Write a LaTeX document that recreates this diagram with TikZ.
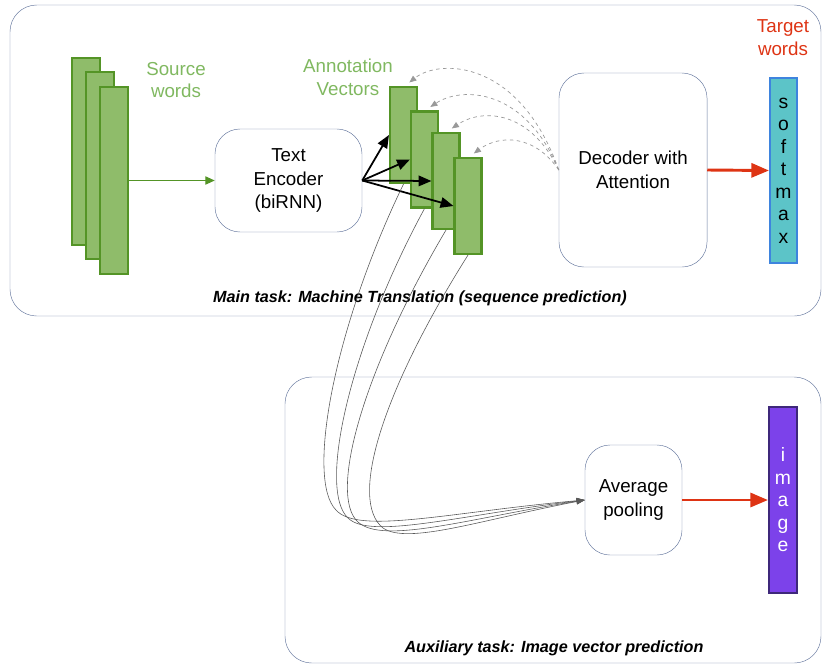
\documentclass[tikz,border=0pt]{standalone}
\usepackage{fontspec}
\setmainfont{Liberation Sans}
\usepackage{tikz}
\usetikzlibrary{arrows.meta}
\definecolor{vecgreen}{RGB}{143,188,106}
\definecolor{vecedge}{RGB}{84,148,38}
\definecolor{labgreen}{RGB}{128,184,96}
\definecolor{outred}{RGB}{222,52,20}
\definecolor{softteal}{RGB}{92,196,200}
\definecolor{softedge}{RGB}{62,132,222}
\definecolor{imgpurple}{RGB}{124,66,234}
\definecolor{imgedge}{RGB}{62,40,122}
\definecolor{boxedge}{RGB}{104,122,160}

\begin{document}
\begin{tikzpicture}[x=0.03cm,y=-0.03cm,
    vec/.style={draw=vecedge,fill=vecgreen,line width=1.8pt,inner sep=0pt},
    block/.style={draw=boxedge,rounded corners=0.75cm,fill=white,align=center,
      font=\fontsize{16}{20.4}\selectfont,inner sep=0pt},
    outvec/.style={line width=1.8pt,inner sep=0pt,align=center,
      font=\fontsize{16.5}{19.2}\selectfont},
    tasklabel/.style={font=\fontsize{13.8}{16}\selectfont\bfseries\itshape},
    redarrow/.style={-{Triangle[length=15pt,width=12pt]},outred,line width=2.5pt},
    encarrow/.style={-{Triangle[length=11pt,width=9pt]},black,line width=1.5pt},
    attarrow/.style={-{Triangle[length=6pt,width=5pt]},gray!80,dashed,line width=0.6pt},
    poolarrow/.style={-{Triangle[length=7pt,width=5pt]},black!65,line width=0.5pt}]
    \useasboundingbox (0,0) rectangle (823,665);
    % task frames
    \draw[boxedge,rounded corners=0.8cm] (10,5) rectangle (821,316);
    \draw[boxedge,rounded corners=0.8cm] (285,377) rectangle (821,663);
    \node[tasklabel] (mainlabel) at (420,298) {Main task: Machine Translation (sequence prediction)};
    \node[tasklabel] (auxlabel) at (554,648) {Auxiliary task: Image vector prediction};

    % source words
    \node[vec,minimum width=0.84cm,minimum height=5.61cm] (src1) at (86,151.5) {};
    \node[vec,minimum width=0.84cm,minimum height=5.61cm] (src2) at (100,165.5) {};
    \node[vec,minimum width=0.84cm,minimum height=5.61cm] (src3) at (114,180.5) {};
    \node[labgreen,align=center,font=\fontsize{16}{19.5}\selectfont] (srclabel) at (176,80) {Source\\words};

    % encoder and annotation vectors
    \node[block,minimum width=4.41cm,minimum height=3.09cm] (enc) at (288.5,180.5) {Text\\Encoder\\(biRNN)};
    \node[vec,minimum width=0.81cm,minimum height=2.88cm] (ann1) at (403.5,135) {};
    \node[vec,minimum width=0.81cm,minimum height=2.88cm] (ann2) at (424.5,159.5) {};
    \node[vec,minimum width=0.81cm,minimum height=2.88cm] (ann3) at (446,181) {};
    \node[vec,minimum width=0.81cm,minimum height=2.88cm] (ann4) at (468,206) {};
    \node[labgreen,align=center,font=\fontsize{16}{19.5}\selectfont] (annlabel) at (348,77) {Annotation\\Vectors};

    % decoder and softmax
    \node[block,minimum width=4.44cm,minimum height=5.82cm] (dec) at (633,170) {Decoder with\\Attention};
    \node[outvec,draw=softedge,fill=softteal,minimum width=0.81cm,minimum height=5.55cm] (soft) at (783.5,170.5) {s\\o\\f\\t\\m\\a\\x};
    \node[outred,align=center,font=\fontsize{16}{19.5}\selectfont] (tgtlabel) at (783,38) {Target\\words};

    % pooling and image vector
    \node[block,minimum width=2.91cm,minimum height=3.3cm] (pool) at (633.5,500) {Average\\pooling};
    \node[outvec,draw=imgedge,fill=imgpurple,text=white,minimum width=0.84cm,minimum height=5.58cm] (img) at (783,500) {i\\m\\a\\g\\e};

    % connectors
    \draw[-{Triangle[length=8pt,width=7pt]},vecedge,line width=1pt] (src3.east) -- (enc.west);
    \draw[encarrow] (enc.east) -- (ann1.west);
    \draw[encarrow] (enc.east) -- (ann2.west);
    \draw[encarrow] (enc.east) -- (ann3.west);
    \draw[encarrow] (enc.east) -- (ann4.west);
    \draw[attarrow] (dec.west) .. controls (520,60) and (440,58) .. ([xshift=5pt,yshift=3pt]ann1.north);
    \draw[attarrow] (dec.west) .. controls (525,88) and (462,86) .. ([xshift=5pt,yshift=3pt]ann2.north);
    \draw[attarrow] (dec.west) .. controls (530,110) and (482,108) .. ([xshift=5pt,yshift=3pt]ann3.north);
    \draw[attarrow] (dec.west) .. controls (535,135) and (500,134) .. ([xshift=5pt,yshift=3pt]ann4.north);
    \draw[redarrow] (dec.east) -- (soft.west);
    \draw[redarrow] (pool.east) -- (img.west);
    \draw[poolarrow] (ann1.south) .. controls (333,330) and (306,480) .. (336,510)
      .. controls (358,535) and (450,512) .. (pool.west);
    \draw[poolarrow] (ann2.south) .. controls (348,350) and (318,490) .. (348,518)
      .. controls (370,540) and (460,515) .. (pool.west);
    \draw[poolarrow] (ann3.south) .. controls (363,370) and (328,495) .. (358,522)
      .. controls (383,545) and (470,518) .. (pool.west);
    \draw[poolarrow] (ann4.south) .. controls (383,390) and (348,500) .. (383,528)
      .. controls (408,545) and (480,520) .. (pool.west);
\end{tikzpicture}
\end{document}
